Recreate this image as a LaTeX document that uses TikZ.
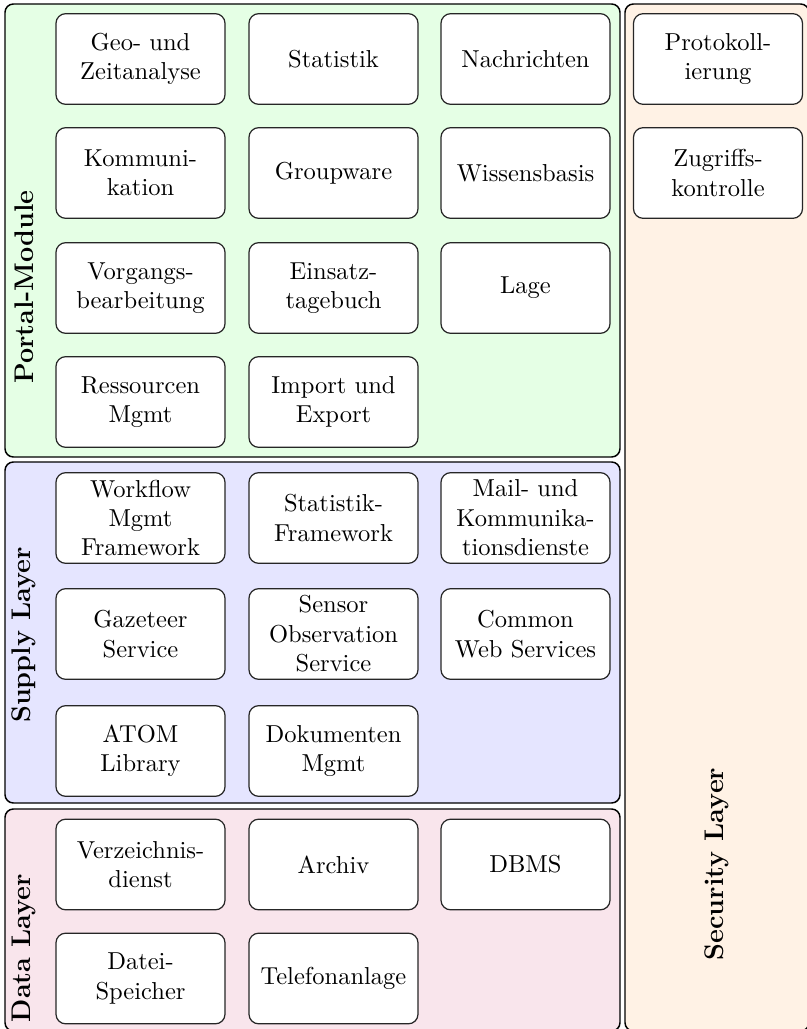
\documentclass[tikz,border=0pt]{standalone}
\usepackage{tikz}
\begin{document}
\begin{tikzpicture}[x=0.408pt, y=-0.408pt,
  layer/.style={draw=black, line width=0.6pt, rounded corners=3.4pt},
  module/.style={draw=black!85, line width=0.5pt, fill=white, rounded corners=4pt,
    minimum width=69pt, minimum height=37pt, inner sep=0pt, align=center,
    font=\normalsize},
  layerlabel/.style={rotate=90, font=\fontsize{11}{13}\selectfont\bfseries, inner sep=0pt}]
\useasboundingbox (0,0) rectangle (807,1029);

% layer backgrounds
\draw[layer, fill=green!10]  (5,4)   rectangle (620,457);
\draw[layer, fill=blue!10]   (5,462) rectangle (620,803);
\draw[layer, fill=purple!10] (5,809) rectangle (620,1031);
\draw[layer, fill=orange!10] (625,4) rectangle (809,1031);

% layer titles
\node[layerlabel] (lportal)   at (24,287)  {Portal-Module};
\node[layerlabel] (lsupply)   at (24,635)  {Supply Layer};
\node[layerlabel] (ldata)     at (24,948)  {Data Layer};
\node[layerlabel] (lsecurity) at (717,864) {Security Layer};

% portal modules
\node[module] (geo)   at (140.5,59)  {Geo- und\\Zeitanalyse};
\node[module] (stat)  at (333.5,59)  {Statistik};
\node[module] (nachr) at (525.5,59)  {Nachrichten};
\node[module] (komm)  at (140.5,173) {Kommuni-\\kation};
\node[module] (group) at (333.5,173) {Groupware};
\node[module] (wiss)  at (525.5,173) {Wissensbasis};
\node[module] (vorg)  at (140.5,288) {Vorgangs-\\bearbeitung};
\node[module] (eins)  at (333.5,288) {Einsatz-\\tagebuch};
\node[module] (lage)  at (525.5,288) {Lage};
\node[module] (ress)  at (140.5,402) {Ressourcen\\Mgmt};
\node[module] (imex)  at (333.5,402) {Import und\\Export};

% supply layer
\node[module] (wf)    at (140.5,518) {Workflow\\Mgmt\\Framework};
\node[module] (sfw)   at (333.5,518) {Statistik-\\Framework};
\node[module] (mail)  at (525.5,518) {Mail- und\\Kommunika-\\tionsdienste};
\node[module] (gaz)   at (140.5,634) {Gazeteer\\Service};
\node[module] (sos)   at (333.5,634) {Sensor\\Observation\\Service};
\node[module] (cws)   at (525.5,634) {Common\\Web Services};
\node[module] (atom)  at (140.5,751) {ATOM\\Library};
\node[module] (dok)   at (333.5,751) {Dokumenten\\Mgmt};

% data layer
\node[module] (verz)  at (140.5,864.5) {Verzeichnis-\\dienst};
\node[module] (arch)  at (333.5,864.5) {Archiv};
\node[module] (dbms)  at (525.5,864.5) {DBMS};
\node[module] (datei) at (140.5,978.5) {Datei-\\Speicher};
\node[module] (tel)   at (333.5,978.5) {Telefonanlage};

% security layer
\node[module] (proto) at (718,59)  {Protokoll-\\ierung};
\node[module] (zugr)  at (718,173) {Zugriffs-\\kontrolle};
\end{tikzpicture}
\end{document}
